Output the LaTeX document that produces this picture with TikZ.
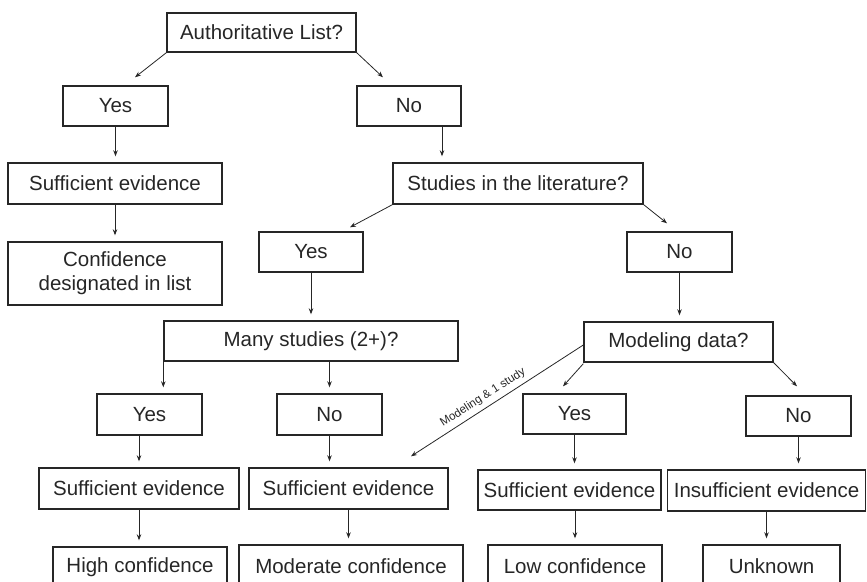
\documentclass[tikz,border=0pt]{standalone}
\usepackage{fontspec}
\setmainfont{Liberation Sans}
\usetikzlibrary{arrows.meta,calc}
\begin{document}
\begin{tikzpicture}[x=1pt,y=-1pt,
  box/.style={draw=black!85,line width=1.4pt,rectangle,inner sep=0pt,align=center,
    font=\fontsize{20.5}{24}\selectfont,text=black!85},
  arr/.style={draw=black!85,line width=0.8pt,-{Stealth[length=6pt,width=4.5pt]}},
  vert/.style={arr,shorten >=6pt},
  lab/.style={font=\fontsize{11.6}{13}\selectfont,text=black!85}]
\useasboundingbox (0,0) rectangle (867,581);
\node[box,minimum width=189,minimum height=39] (auth) at (261.5,32.5) {Authoritative List?};
\node[box,minimum width=105,minimum height=40] (yesA) at (115.5,106) {Yes};
\node[box,minimum width=104,minimum height=40] (noA) at (409,106) {No};
\node[box,minimum width=214,minimum height=41] (suffA) at (115,183.5) {Sufficient evidence};
\node[box,minimum width=214,minimum height=63] (conf) at (115,273.5) {Confidence\\designated in list};
\node[box,minimum width=250,minimum height=41] (stud) at (518,183.5) {Studies in the literature?};
\node[box,minimum width=104,minimum height=40] (yesB) at (311,252) {Yes};
\node[box,minimum width=105,minimum height=40] (noB) at (679.5,252) {No};
\node[box,minimum width=294,minimum height=40] (many) at (311,341) {Many studies (2+)?};
\node[box,minimum width=189,minimum height=40] (model) at (678.5,342) {Modeling data?};
\node[box,minimum width=105,minimum height=41] (yesC) at (149.5,414.5) {Yes};
\node[box,minimum width=105,minimum height=41] (noC) at (329.5,414.5) {No};
\node[box,minimum width=103,minimum height=40] (yesD) at (574.5,414) {Yes};
\node[box,minimum width=105,minimum height=40] (noD) at (798.5,416) {No};
\node[box,minimum width=200,minimum height=41] (suffC) at (139,488.5) {Sufficient evidence};
\node[box,minimum width=199,minimum height=41] (suffD) at (348.5,488.5) {Sufficient evidence};
\node[box,minimum width=183,minimum height=40] (suffE) at (569.5,490) {Sufficient evidence};
\node[box,minimum width=198,minimum height=41] (insuff) at (766.5,490.5) {Insufficient evidence};
\node[box,minimum width=174,minimum height=41] (high) at (140,567.5) {High confidence};
\node[box,minimum width=224,minimum height=42] (mod) at (351,566) {Moderate confidence};
\node[box,minimum width=174,minimum height=42] (low) at (575,566) {Low confidence};
\node[box,minimum width=137,minimum height=42] (unk) at (771.5,566) {Unknown};
% diagonal arrows
\draw[arr] (auth.south west) -- ($(yesA.north)+(19.5,-8)$);
\draw[arr] (auth.south east) -- ($(noA.north)+(-26,-8)$);
\draw[arr] (stud.south west) -- ($(yesB.north)+(39,-4)$);
\draw[arr] (stud.south east) -- ($(noB.north)+(-12.5,-8)$);
\draw[arr] ([yshift=-1]model.south west) -- ($(yesD.north)+(-11.5,-7)$);
\draw[arr] (model.south east) -- ($(noD.north)+(-1.5,-9)$);
\draw[arr] ([yshift=-3]model.west) -- node[lab,pos=0.55,sloped,above=1pt] {Modeling \& 1 study} ($(suffD.north)+(62.5,-11)$);
% vertical arrows
\draw[vert] (yesA.south) -- (yesA.south |- suffA.north);
\draw[vert] (suffA.south) -- (suffA.south |- conf.north);
\draw[vert] ([xshift=33]noA.south) -- ([xshift=33]noA.south |- stud.north);
\draw[vert] (yesB.south) -- (many.north);
\draw[vert] (noB.south) -- (noB.south |- model.north);
\draw[vert] (many.south west) -- (many.south west |- yesC.north);
\draw[vert] (noC.north |- many.south) -- (noC.north);
\draw[vert] (suffC.north |- yesC.south) -- (suffC.north);
\draw[vert] (noC.south) -- (noC.south |- suffD.north);
\draw[vert] (yesD.south) -- (yesD.south |- suffE.north);
\draw[vert] (noD.south) -- (noD.south |- insuff.north);
\draw[vert] (suffC.south) -- (suffC.south |- high.north);
\draw[vert] (suffD.south) -- (suffD.south |- mod.north);
\draw[vert] (low.north |- suffE.south) -- (low.north);
\draw[vert] (insuff.south) -- (insuff.south |- unk.north);
\end{tikzpicture}
\end{document}
